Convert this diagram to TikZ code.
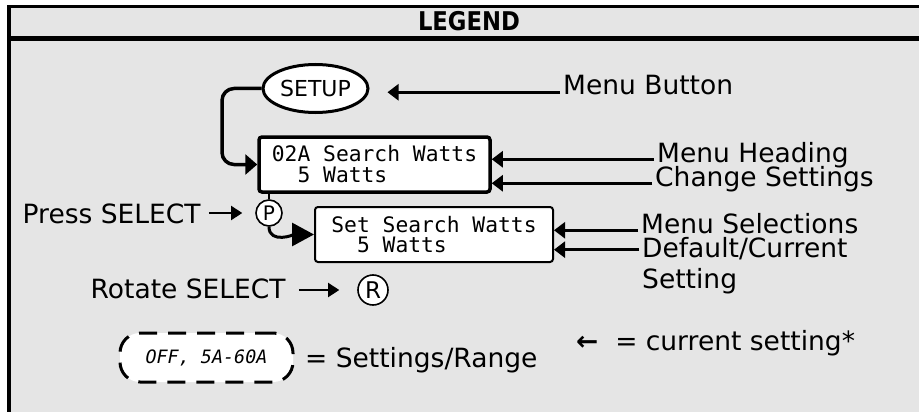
\documentclass[tikz,border=0pt]{standalone}
\usepackage{fontspec}
\setmainfont{DejaVu Sans}
\setmonofont{DejaVu Sans Mono}
\newfontfamily\titlefont{DejaVu Sans}[FakeStretch=0.88]
\usetikzlibrary{arrows.meta, shapes.geometric}
\definecolor{panelgray}{HTML}{E5E5E5}

\tikzset{
  lbl/.style={font=\fontsize{26.5}{31}\selectfont, inner sep=3pt, anchor=base west, align=left},
  lcd/.style={draw, fill=white, rounded corners=3pt, align=left, inner sep=0pt,
    minimum height=55pt, font=\ttfamily\fontsize{21.3}{21}\selectfont},
  ptr/.style={line width=2.5pt, -{Triangle[length=11pt,width=16pt]}},
  knob/.style={circle, draw, fill=white, line width=1.6pt, inner sep=0pt},
}

\begin{document}
\begin{tikzpicture}[x=1pt, y=-1pt]
  \useasboundingbox (0,0) rectangle (919,412);

  \fill[panelgray] (9,6.5) rectangle (919,412);
  \draw[line width=3.6pt] (9,412) -- (9,6.5) -- (919,6.5);
  \draw[line width=4.5pt] (9,38.3) -- (919,38.3);
  \node[font=\titlefont\bfseries\fontsize{25.8}{26}\selectfont, anchor=base] (title) at (469,31) {LEGEND};

  \node[ellipse, draw, fill=white, line width=3pt, minimum width=105pt, minimum height=48pt,
    inner sep=0pt, font=\fontsize{22}{22}\selectfont] (setup) at (315.5,88.5) {SETUP};
  \node[lcd, line width=3.5pt, minimum width=231pt] (menu) at (374.5,164.5) {02A Search Watts\\\phantom{00}5 Watts};
  \node[lcd, line width=2pt, minimum width=238pt, font=\ttfamily\fontsize{21.3}{20}\selectfont] (sel) at (434,234.5) {Set Search Watts\\\phantom{00}5 Watts};

  \node[knob, minimum size=26pt, font=\fontsize{20}{20}\selectfont] (pbtn) at (269,213) {P};
  \node[knob, minimum size=30pt, font=\fontsize{23}{23}\selectfont] (rbtn) at (373,290) {R};

  \draw[line width=3.5pt, rounded corners=12pt, -{Triangle[length=12pt,width=20pt]}]
    (setup.west) -- (222,88.5) |- (menu.west);
  \draw[line width=2.5pt] (menu.south -| pbtn) -- (pbtn.north);
  \draw[line width=3pt, -{Triangle[length=22pt,width=23pt]}] (pbtn.south) to[out=-90,in=180] (sel.west);

  \node[lbl, inner sep=0pt] (press) at (22.5,223) {Press SELECT};
  \draw[line width=2pt, -{Triangle[length=11pt,width=14pt]}, shorten <=8pt, shorten >=13pt]
    (press.east |- pbtn.west) -- (pbtn.west);
  \node[lbl, inner sep=0pt] (rotate) at (90.5,298) {Rotate SELECT};
  \draw[line width=2pt, -{Triangle[length=11pt,width=14pt]}, shorten <=13pt, shorten >=18pt]
    (rotate.east |- rbtn.west) -- (rbtn.west);

  \node[lbl] (mbtn) at (560,95) {Menu Button};
  \draw[ptr, shorten >=18pt] (mbtn.mid west) -- (mbtn.mid west -| setup.east);
  \node[lbl] (head) at (654,162) {Menu Heading};
  \draw[ptr] (head.mid west) -- (head.mid west -| menu.east);
  \node[lbl] (chg) at (652,186) {Change Settings};
  \draw[ptr] (chg.mid west) -- (chg.mid west -| menu.east);
  \node[lbl] (msel) at (638,233) {Menu Selections};
  \draw[ptr] (msel.mid west) -- (msel.mid west -| sel.east);
  \node[lbl] (dflt) at (639,288) {Default/Current\\Setting};
  \draw[ptr] ([yshift=-16pt]dflt.north west) -- ([yshift=-16pt]dflt.north west -| sel.east);

  \node[draw, fill=white, line width=3pt, dash pattern=on 18pt off 11pt, rounded corners=20pt,
    minimum width=173pt, minimum height=49pt, inner sep=0pt,
    font=\ttfamily\itshape\fontsize{18.4}{18}\selectfont] (range) at (206.5,357.5) {OFF, 5A-60A};
  \node[lbl, inner sep=0pt] (rangetxt) at (305,367) {= Settings/Range};
  \node[lbl, inner sep=0pt] (cur) at (576,350) {\textbf{←}\ \ = current setting*};
\end{tikzpicture}
\end{document}
